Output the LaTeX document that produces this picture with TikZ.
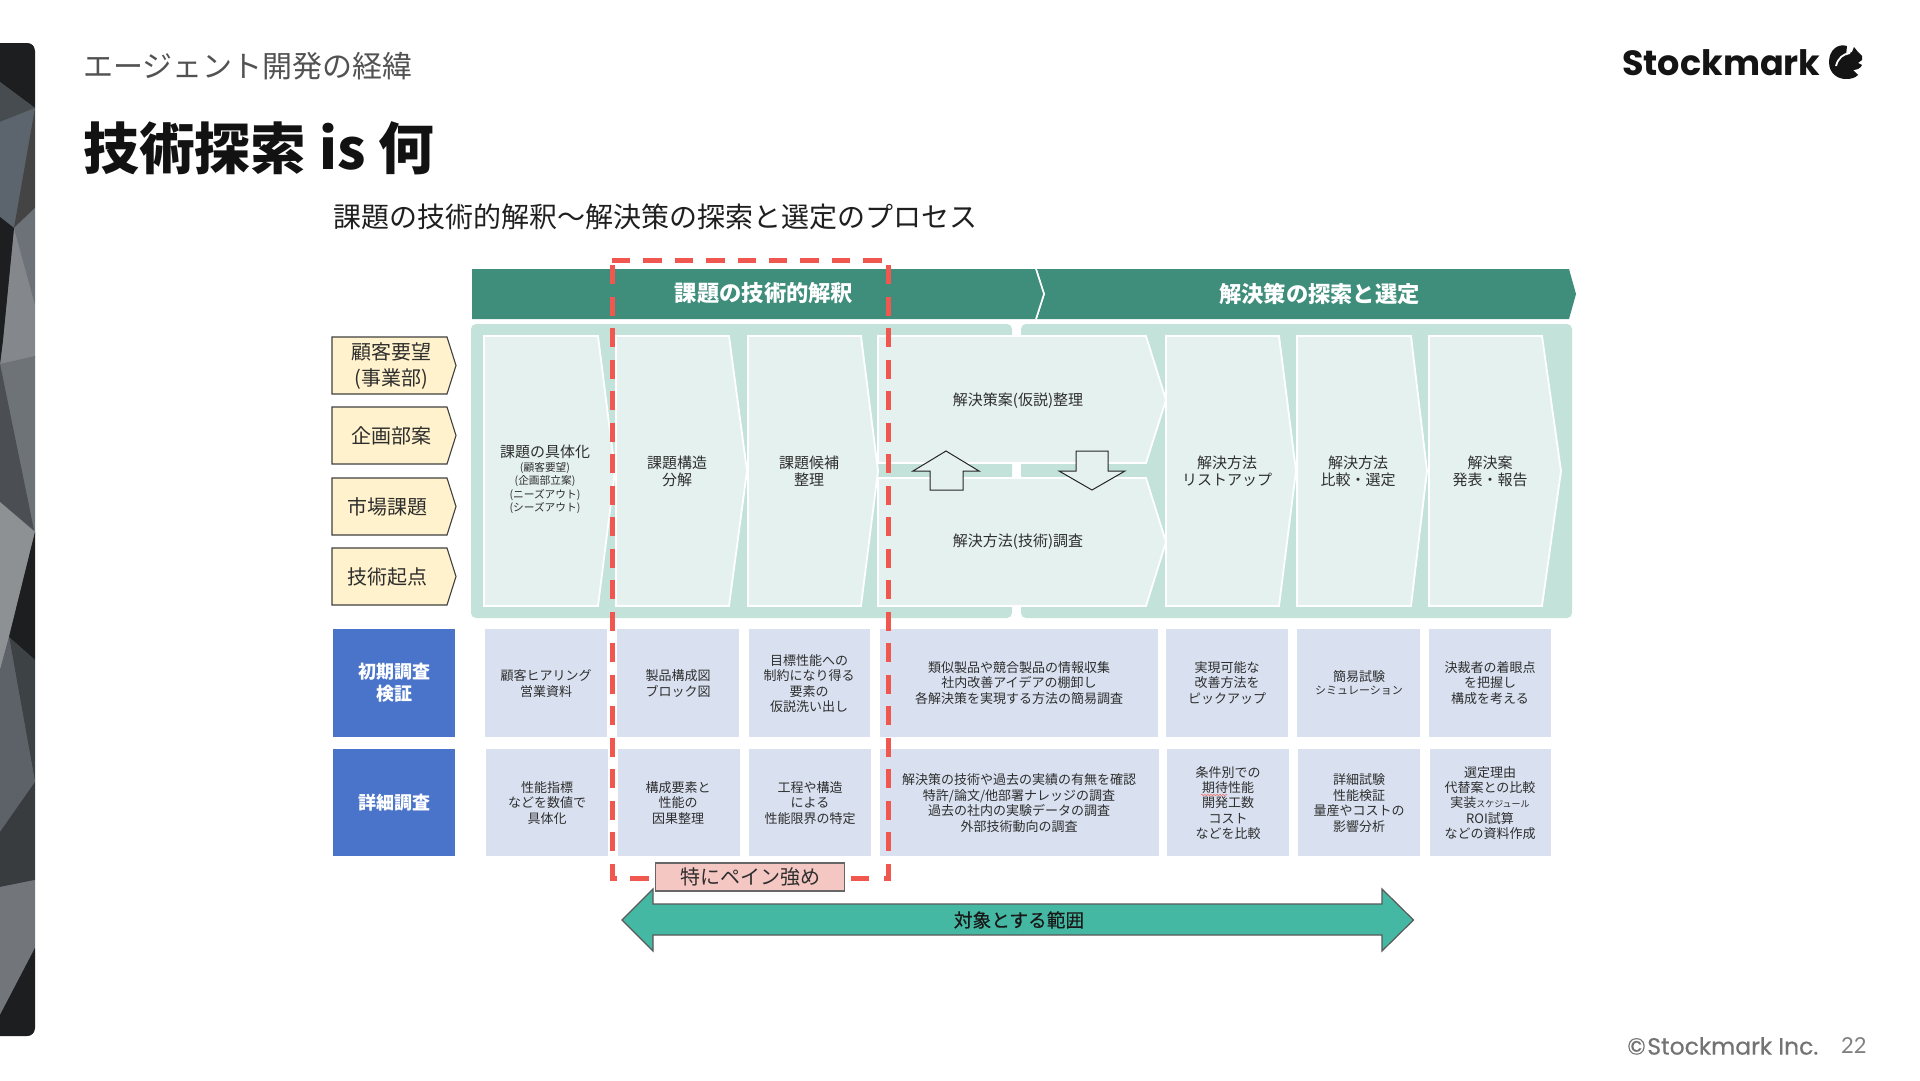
\documentclass[tikz,border=0pt]{standalone}
\usepackage{fontspec}
\usetikzlibrary{decorations.pathmorphing}
\setmainfont{Noto Sans CJK JP}
\newfontfamily\logofont{Poppins}
\newfontfamily\footfont[FakeBold=0.35]{Poppins}
\newfontfamily\medfont[FakeBold=0.4]{Noto Sans CJK JP}
\newfontfamily\numfont{Lato}
\definecolor{hdrgreen}{HTML}{3F8D7B}
\definecolor{panelgreen}{HTML}{C2E2DA}
\definecolor{chevfill}{HTML}{E5F1EE}
\definecolor{tagfill}{HTML}{FFF2CC}
\definecolor{bluehead}{HTML}{4A74C9}
\definecolor{cellblue}{HTML}{D9E1F0}
\definecolor{reddash}{HTML}{F0584F}
\definecolor{painfill}{HTML}{F4C7C3}
\definecolor{rangegreen}{HTML}{44B8A2}
\definecolor{inktext}{HTML}{2E2E2E}
\definecolor{stripbase}{HTML}{5C6268}
\newcommand{\fs}[2]{\fontsize{#1}{#2}\selectfont}
\newcommand{\facet}[2]{\definecolor{facetc}{HTML}{#1}\fill[facetc] #2 -- cycle;}
\tikzset{
  chevshape/.style={fill=chevfill,draw=white,line width=1.8pt,line join=miter},
  tagshape/.style={fill=tagfill,draw=black!75,line width=1.1pt},
  cell/.style={fill=cellblue,draw=none},
  bluecell/.style={fill=bluehead,draw=none},
  panel/.style={fill=panelgreen,draw=none,rounded corners=5pt},
  swaparrow/.style={fill=chevfill,draw=black!85,line width=1pt},
  redline/.style={draw=reddash,line width=5pt},
  redv/.style={redline,dash pattern=on 19pt off 12.5pt},
  redh/.style={redline,dash pattern=on 18.4pt off 13pt},
  txt/.style={inner sep=0pt,align=center,text=inktext,font=\fs{15}{17.3}},
  celltxt/.style={inner sep=0pt,align=center,text=inktext,font=\fs{13}{15.4}},
  tagtxt/.style={inner sep=0pt,align=center,text=inktext,font=\fs{20}{26}},
  headtxt/.style={inner sep=0pt,align=center,text=white,font=\fs{22.3}{26}\bfseries},
  bluetxt/.style={inner sep=0pt,align=center,text=white,font=\fs{18}{22}\bfseries},
}
% x0 x1 xtip ytop ybot ymid
\newcommand{\chevbox}[6]{\path[chevshape] (#1,#4) -- (#2,#4) -- (#3,#6) -- (#2,#5) -- (#1,#5) -- cycle;}
\newcommand{\tagbox}[2]{\path[tagshape] (332,#1) -- (447,#1) -- (456,{(#1+#2)/2}) -- (447,#2) -- (332,#2) -- cycle;}
\begin{document}
\begin{tikzpicture}[x=1pt,y=-1pt]
\useasboundingbox (0,0) rectangle (1920,1080);
\fill[white] (0,0) rectangle (1920,1080);

% left decorative strip
\begin{scope}
\clip[rounded corners=8pt] (-20,43) -- (35,43) -- (35,1036) -- (-20,1036) -- cycle;
\fill[stripbase] (0,43) rectangle (35,1036);
\facet{1C1E1F}{(0,43) -- (35,43) -- (35,108) -- (0,82)}
\facet{474C51}{(0,82) -- (35,108) -- (0,122)}
\facet{5C656D}{(0,122) -- (35,108) -- (14,228) -- (0,217)}
\facet{454444}{(35,108) -- (35,208) -- (14,228)}
\facet{6C7278}{(14,228) -- (35,208) -- (35,305)}
\facet{84888C}{(14,228) -- (35,305) -- (35,357) -- (0,364) -- (3,340)}
\facet{1C1E1F}{(0,217) -- (14,228) -- (3,340) -- (0,364)}
\facet{6E7378}{(0,364) -- (35,356) -- (35,535) -- (33,527)}
\facet{4B4F54}{(0,364) -- (34,530) -- (0,502)}
\facet{8E9194}{(0,502) -- (35,532) -- (9,637) -- (0,670)}
\facet{1D1E1F}{(35,532) -- (35,660) -- (9,637)}
\facet{3D4245}{(9,637) -- (35,660) -- (35,782)}
\facet{5C6268}{(0,670) -- (9,637) -- (35,782) -- (0,832)}
\facet{383C3E}{(0,832) -- (35,782) -- (35,880) -- (0,887)}
\facet{72767B}{(0,887) -- (35,880) -- (35,948) -- (0,1015)}
\facet{1C1E1F}{(0,1015) -- (35,948) -- (35,1036) -- (0,1036)}
\end{scope}

% slide heading
\node[anchor=west,inner sep=0pt,text=black!68,font=\fs{30}{34}] (kicker) at (83,66) {エージェント開発の経緯};
\node[anchor=west,inner sep=0pt,text=black!93,font=\fs{55.8}{60}\bfseries] (slidetitle) at (83,148) {技術探索 is 何};
\node[anchor=west,inner sep=0pt,text=black!88,font=\fs{28}{32}] (subtitle) at (333,217) {課題の技術的解釈〜解決策の探索と選定のプロセス};

% logo
\node[anchor=west,inner sep=0pt,text=black!92,font=\logofont\bfseries\fs{35}{40}] (logo) at (1622,63) {Stockmark};
\fill[black!92] (1847,46) .. controls (1838,43) and (1829,50) .. (1829,62) .. controls (1829,73) and (1837,79) .. (1846,79) .. controls (1851,79) and (1855,78) .. (1858,75) -- (1853,70) .. controls (1857,70) and (1861,68) .. (1862,65) -- (1858,63) -- (1862,60) -- (1862,56) -- (1858,52) -- (1854,47) -- (1852,52) .. controls (1849,53) and (1847,54) .. (1846,56) -- cycle;
\draw[white,line width=1.8pt] (1850,53) .. controls (1843,54) and (1838,58) .. (1836,66);

% footer
\node[anchor=west,inner sep=0pt,text=black!55,font=\footfont\fs{23.5}{28}] (copyright) at (1627,1046) {©\kern1.5pt Stockmark Inc.};
\node[anchor=west,inner sep=0pt,text=black!50,font=\numfont\fs{22}{26}] (pageno) at (1841,1046) {22};

% header band
\fill[hdrgreen] (472,269) -- (1036,269) -- (1044,294) -- (1036,319) -- (472,319) -- cycle;
\fill[hdrgreen] (1037,269) -- (1569,269) -- (1576,294) -- (1569,319) -- (1037,319) -- (1045,294) -- cycle;
\draw[white,line width=1.6pt] (1036,269) -- (1044,294) -- (1036,319);

% panels
\path[panel] (471,324) rectangle (1012,618);
\path[panel] (1021,324) rectangle (1572,618);

% chevrons
\chevbox{484}{598}{615}{336}{606}{471}
\chevbox{616}{729}{747}{336}{606}{471}
\chevbox{748}{861}{878}{336}{606}{471}
\chevbox{878}{1146}{1166}{336}{463}{400}
\chevbox{878}{1146}{1166}{478}{606}{542}
\chevbox{1166}{1279}{1296}{336}{606}{471}
\chevbox{1297}{1411}{1427}{336}{606}{471}
\chevbox{1429}{1542}{1561}{336}{606}{471}

% swap arrows
\path[swaparrow] (946,451) -- (979,471) -- (963,471) -- (963,490) -- (930,490) -- (930,471) -- (913,471) -- cycle;
\path[swaparrow] (1092,490) -- (1125,471) -- (1108,471) -- (1108,451) -- (1076,451) -- (1076,471) -- (1059,471) -- cycle;

% origin tags
\tagbox{337}{394}
\tagbox{407}{464}
\tagbox{478}{535}
\tagbox{548}{605}

% blue heads
\fill[bluecell] (333,629) rectangle (455,737);
\fill[bluecell] (333,749) rectangle (455,856);

% cells row 1
\fill[cell] (485,629) rectangle (607,737);
\fill[cell] (617,629) rectangle (739,737);
\fill[cell] (749,629) rectangle (870,737);
\fill[cell] (880,629) rectangle (1158,737);
\fill[cell] (1166,629) rectangle (1288,737);
\fill[cell] (1297,629) rectangle (1420,737);
\fill[cell] (1429,629) rectangle (1551,737);
% cells row 2
\fill[cell] (486,749) rectangle (608,856);
\fill[cell] (618,749) rectangle (740,856);
\fill[cell] (749,749) rectangle (871,856);
\fill[cell] (880,749) rectangle (1159,856);
\fill[cell] (1167,749) rectangle (1289,856);
\fill[cell] (1298,749) rectangle (1420,856);
\fill[cell] (1430,749) rectangle (1551,856);

% header texts
\node[headtxt] (hA) at (764,293.5) {課題の技術的解釈};
\node[headtxt] (hB) at (1319.5,293.5) {解決策の探索と選定};

% tag texts
\node[tagtxt] (t1) at (391,366) {顧客要望\\(事業部)};
\node[tagtxt] (t2) at (391,435.5) {企画部案};
\node[tagtxt] (t3) at (387,506.5) {市場課題};
\node[tagtxt] (t4) at (387,576.5) {技術起点};

% chevron texts
\node[txt] (c1a) at (545,452) {課題の具体化};
\node[inner sep=0pt,align=center,text=inktext,font=\fs{10.7}{13.3}] (c1b) at (545,488) {(顧客要望)\\(企画部立案)\\(ニーズアウト)\\(シーズアウト)};
\node[txt] (c2) at (677,471) {課題構造\\分解};
\node[txt] (c3) at (809,471) {課題候補\\整理};
\node[txt] (c4a) at (1018,400.5) {解決策案(仮説)整理};
\node[txt] (c4b) at (1018,542) {解決方法(技術)調査};
\node[txt] (c5) at (1227,471) {解決方法\\リストアップ};
\node[txt] (c6) at (1358,471) {解決方法\\比較・選定};
\node[txt] (c7) at (1490,471) {解決案\\発表・報告};

% blue head texts
\node[bluetxt] (b1) at (394,683) {初期調査\\検証};
\node[bluetxt] (b2) at (394,803) {詳細調査};

% row 1 texts
\node[celltxt] (r11) at (546,683.5) {顧客ヒアリング\\営業資料};
\node[celltxt] (r12) at (678,683.5) {製品構成図\\ブロック図};
\node[celltxt] (r13) at (809,683.5) {目標性能への\\制約になり得る\\要素の\\仮説洗い出し};
\node[celltxt] (r14) at (1019,683) {類似製品や競合製品の情報収集\\社内改善アイデアの棚卸し\\各解決策を実現する方法の簡易調査};
\node[celltxt] (r15) at (1227,683) {実現可能な\\改善方法を\\ピックアップ};
\node[celltxt] (r16a) at (1359,677) {簡易試験};
\node[inner sep=0pt,text=inktext,font=\fs{11}{13}] (r16b) at (1359,690.5) {シミュレーション};
\node[celltxt] (r17) at (1490,683) {決裁者の着眼点\\を把握し\\構成を考える};

% row 2 texts
\node[celltxt] (r21) at (547,803) {性能指標\\などを数値で\\具体化};
\node[celltxt] (r22) at (678,803) {構成要素と\\性能の\\因果整理};
\node[celltxt] (r23) at (810,803) {工程や構造\\による\\性能限界の特定};
\node[celltxt] (r24) at (1019,803) {解決策の技術や過去の実績の有無を確認\\特許/論文/他部署ナレッジの調査\\過去の社内の実験データの調査\\外部技術動向の調査};
\node[celltxt] (r25) at (1228,803) {条件別での\\期待性能\\開発工数\\コスト\\などを比較};
\node[celltxt] (r26) at (1359,803) {詳細試験\\性能検証\\量産やコストの\\影響分析};
\node[celltxt] (r27) at (1490,803) {選定理由\\代替案との比較\\実装{\fs{9}{15.4}スケジュール}\\ROI試算\\などの資料作成};
\draw[reddash!85,line width=.6pt,decorate,decoration={snake,amplitude=.8pt,segment length=3pt}] (1201,795) -- (1227,795);

% red dashed frame
\draw[redh] (612,260) -- (884,260);
\draw[redv] (612,265) -- (612,878) -- (617,878);
\draw[redv] (888,265) -- (888,878) -- (883,878);
\draw[redline] (630,878) -- (649,878);
\draw[redline] (851,878) -- (869,878);

% pain label
\node[draw=black!60,line width=1.1pt,fill=painfill,minimum width=189pt,minimum height=28pt,inner sep=0pt,text=inktext,font=\fs{20}{24}] (pain) at (750,877) {特にペイン強め};

% range arrow
\path[fill=rangegreen,draw=black!65,line width=1.2pt,line join=miter] (622,920) -- (653,889) -- (653,904) -- (1382,904) -- (1382,889) -- (1413.5,920) -- (1382,951) -- (1382,935) -- (653,935) -- (653,951) -- cycle;
\node[inner sep=0pt,text=black!90,font=\medfont\fs{18.7}{22}] (range) at (1019,920) {対象とする範囲};
\end{tikzpicture}
\end{document}
